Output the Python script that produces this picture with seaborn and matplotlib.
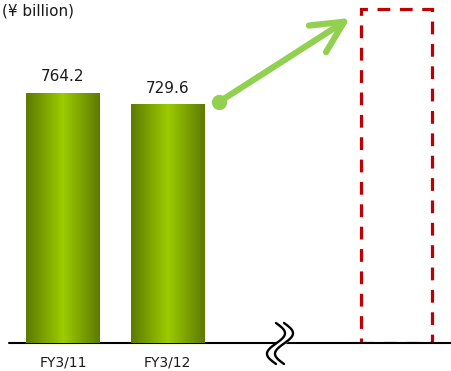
import numpy as np
import pandas as pd
import matplotlib
matplotlib.use('Agg')
import matplotlib.pyplot as plt
from matplotlib.colors import LinearSegmentedColormap
import seaborn as sns

# Datos
years = ['FY3/11', 'FY3/12']
sales = [764.2, 729.6]
target_value = 1020.0
unit_text = '(¥ billion)'

# Layout (posiciones en el eje x nativo)
x_pos = [0.0, 1.0]
target_pos = 3.19

sns.set_theme(style='white')
plt.rcParams['font.family'] = ['DejaVu Sans']

W, H = 452, 371
fig = plt.figure(figsize=(W / 100, H / 100), dpi=100)
base_px = 28
ax = fig.add_axes([0, base_px / H, 1, (H - base_px) / H])

df = pd.DataFrame({'x': x_pos, 'sales': sales})
sns.barplot(data=df, x='x', y='sales', native_scale=True, orient='x',
            width=0.7, color='#88B000', linewidth=0, ax=ax)

df_t = pd.DataFrame({'x': [target_pos], 'sales': [target_value]})
sns.barplot(data=df_t, x='x', y='sales', native_scale=True, orient='x',
            width=0.68, fill=False, color='#C00000', linewidth=2.3,
            linestyle=(0, (4, 3)), ax=ax)

px_per_x = 104.5
ppu = 0.3277
xlim = (-63 / px_per_x, (W - 63) / px_per_x)
ylim = (0, (H - base_px) / ppu)
ax.set_xlim(*xlim)
ax.set_ylim(*ylim)

# Degradado en las barras
cmap = LinearSegmentedColormap.from_list('g', ['#5C7A00', '#9CCC00', '#5C7A00'])
grad = np.linspace(0, 1, 256).reshape(1, -1)
for p in ax.containers[0].patches:
    bb = p.get_bbox()
    im = ax.imshow(grad, extent=[bb.x0, bb.x1, bb.y0, bb.y1], cmap=cmap,
                   aspect='auto', zorder=2, interpolation='bicubic')
    im.set_clip_path(p)
ax.set_xlim(*xlim)
ax.set_ylim(*ylim)

ax.bar_label(ax.containers[0], fmt='%.1f', padding=6, fontsize=11, color='#1a1a1a')

# Ejes
sns.despine(ax=ax, left=True, bottom=True, top=True, right=True)
ax.set_xticks(x_pos)
ax.set_xticklabels(years, fontsize=10, color='#1a1a1a')
ax.set_yticks([])
ax.tick_params(axis='x', length=0, pad=9)
ax.set_xlabel('')
ax.set_ylabel('')
ax.axhline(0, xmin=9 / W, xmax=1, color='black', lw=1.5, zorder=1, clip_on=False)

# Marca de corte
tr = fig.transFigure
t = np.linspace(0, 1, 100)
yy = 343 - 20 + 41 * t
xa = 276 + 9 * np.sin(2 * np.pi * t)
xb = xa + 8
fig_y = (H - yy) / H
ax.fill_betweenx(fig_y, xa / W, xb / W, transform=tr, color='white', zorder=5, clip_on=False)
for xx in (xa, xb):
    ax.plot(xx / W, fig_y, transform=tr, color='black', lw=1.7, zorder=6, clip_on=False)

# Flecha
def px2data(px, py):
    return ((px - 63) / px_per_x, (H - base_px - py) / ppu)

start = px2data(219, 102)
end = px2data(350, 18)
ax.annotate('', xy=end, xytext=start,
            arrowprops=dict(arrowstyle='->,head_length=1.9,head_width=0.95',
                            color='#92D050', lw=4.5, capstyle='round',
                            joinstyle='round', shrinkA=0, shrinkB=0),
            zorder=4)
ax.plot(*start, 'o', color='#92D050', ms=10, zorder=4)

fig.text(2 / W, 1 - 3 / H, unit_text, ha='left', va='top', fontsize=11, color='#1a1a1a')

plt.savefig('out.png', dpi=100)
